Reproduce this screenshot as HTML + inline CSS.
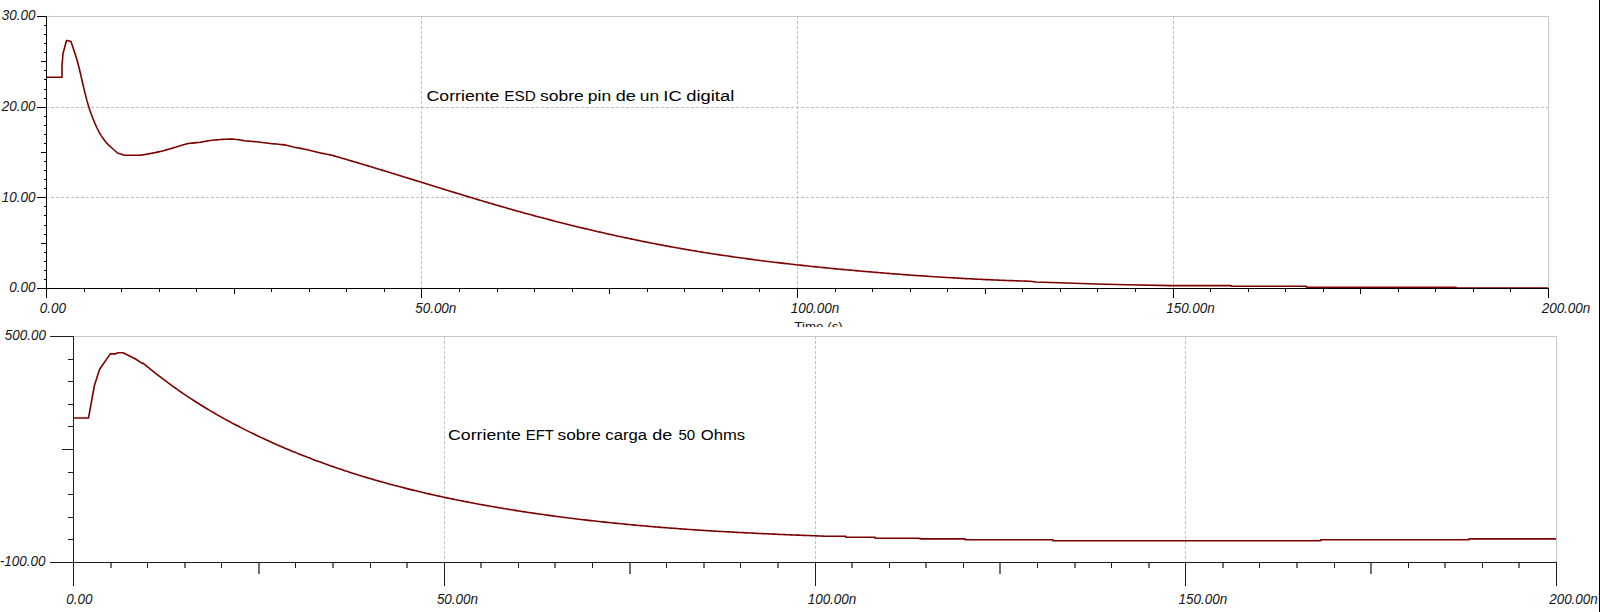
<!DOCTYPE html>
<html><head><meta charset="utf-8"><title>chart</title>
<style>
html,body{margin:0;padding:0;background:#fff;width:1600px;height:612px;overflow:hidden}
svg{display:block}
.lab{font-family:"Liberation Sans",sans-serif;font-style:italic;font-size:14.6px;fill:#141414}
.reg{font-family:"Liberation Sans",sans-serif;font-size:13.5px;fill:#141414}
.title{font-family:"Liberation Sans",sans-serif;font-size:15.5px;fill:#000;stroke:#000;stroke-width:0px}
</style></head><body>
<svg width="1600" height="612" viewBox="0 0 1600 612">
<path d="M46 16.5H1548.5M1548.5 16V288" stroke="#c8c8c8" fill="none"/>
<path d="M47 107.5H1548" stroke="#c0c0c0" stroke-dasharray="3 2" stroke-dashoffset="1" fill="none"/>
<path d="M47 197.5H1548" stroke="#c0c0c0" stroke-dasharray="3 2" stroke-dashoffset="1" fill="none"/>
<path d="M421.5 17V288" stroke="#c0c0c0" stroke-dasharray="3 2" stroke-dashoffset="1" fill="none"/>
<path d="M797.5 17V288" stroke="#c0c0c0" stroke-dasharray="3 2" stroke-dashoffset="1" fill="none"/>
<path d="M1173.5 17V288" stroke="#c0c0c0" stroke-dasharray="3 2" stroke-dashoffset="1" fill="none"/>
<polyline points="46.00,77.25 62.00,77.25 62.00,65.50 63.00,53.50 66.50,40.50 67.40,40.50 71.00,41.50 73.00,47.50 75.00,53.57 77.00,60.02 79.00,67.50 81.00,76.03 83.00,84.74 85.00,93.08 87.00,100.89 89.00,107.76 91.00,113.57 93.00,118.79 95.00,123.64 97.00,128.00 99.00,131.88 101.00,135.32 103.00,138.33 105.00,141.05 107.00,143.43 109.00,145.45 111.00,147.25 113.00,149.01 115.00,150.75 117.00,152.50 117.50,152.94 124.40,155.20 126.40,155.20 128.40,155.20 130.40,155.20 132.40,155.20 134.40,155.20 136.40,155.20 138.40,155.18 140.40,155.10 142.40,154.91 144.40,154.62 146.40,154.27 148.40,153.91 150.40,153.54 152.40,153.16 154.40,152.77 156.40,152.35 158.40,151.90 160.40,151.42 162.40,150.93 164.40,150.41 166.40,149.87 168.40,149.30 170.40,148.72 172.40,148.13 174.40,147.54 176.40,146.95 178.40,146.34 180.40,145.71 182.40,145.05 184.40,144.42 186.40,143.91 188.40,143.56 190.40,143.30 192.40,143.09 194.40,142.88 196.40,142.67 198.40,142.44 200.40,142.17 202.40,141.85 204.40,141.51 206.40,141.15 208.40,140.82 210.40,140.52 212.40,140.28 214.40,140.06 216.40,139.86 218.40,139.68 220.40,139.52 222.40,139.39 224.40,139.28 226.40,139.18 228.40,139.09 230.40,139.04 232.40,139.08 234.40,139.22 236.40,139.44 238.40,139.72 240.40,140.03 242.40,140.36 244.40,140.68 246.40,140.95 248.40,141.15 250.40,141.32 252.40,141.47 254.40,141.62 256.40,141.80 258.40,142.00 260.40,142.24 262.40,142.50 264.40,142.76 266.40,143.02 268.40,143.27 270.40,143.50 272.40,143.70 274.40,143.88 276.40,144.06 278.40,144.25 280.40,144.44 282.40,144.66 284.40,144.91 286.40,145.27 288.40,145.74 290.40,146.26 292.40,146.77 294.40,147.22 296.40,147.62 298.40,148.01 300.40,148.39 302.40,148.78 304.40,149.18 306.40,149.58 308.40,150.00 310.40,150.45 312.40,150.94 314.40,151.45 316.40,151.96 318.40,152.46 320.40,152.93 322.40,153.37 324.40,153.78 326.40,154.18 328.40,154.58 329.90,154.88 330.00,154.74 332.00,155.31 334.00,155.88 336.00,156.45 338.00,157.02 340.00,157.60 342.00,158.18 344.00,158.76 346.00,159.34 348.00,159.93 350.00,160.52 352.00,161.11 354.00,161.70 356.00,162.29 358.00,162.88 360.00,163.48 362.00,164.08 364.00,164.68 366.00,165.28 368.00,165.88 370.00,166.48 372.00,167.09 374.00,167.69 376.00,168.30 378.00,168.91 380.00,169.52 382.00,170.13 384.00,170.74 386.00,171.35 388.00,171.96 390.00,172.58 392.00,173.19 394.00,173.81 396.00,174.42 398.00,175.04 400.00,175.66 402.00,176.28 404.00,176.90 406.00,177.52 408.00,178.13 410.00,178.75 412.00,179.37 414.00,179.99 416.00,180.62 418.00,181.24 420.00,181.86 422.00,182.48 424.00,183.10 426.00,183.72 428.00,184.34 430.00,184.96 432.00,185.58 434.00,186.20 436.00,186.82 438.00,187.44 440.00,188.05 442.00,188.67 444.00,189.29 446.00,189.91 448.00,190.52 450.00,191.14 452.00,191.75 454.00,192.36 456.00,192.98 458.00,193.59 460.00,194.20 462.00,194.81 464.00,195.42 466.00,196.02 468.00,196.63 470.00,197.24 472.00,197.84 474.00,198.44 476.00,199.04 478.00,199.64 480.00,200.24 482.00,200.84 484.00,201.43 486.00,202.02 488.00,202.61 490.00,203.20 492.00,203.79 494.00,204.38 496.00,204.96 498.00,205.54 500.00,206.12 502.00,206.70 504.00,207.27 506.00,207.85 508.00,208.42 510.00,208.99 512.00,209.55 514.00,210.12 516.00,210.68 518.00,211.24 520.00,211.79 522.00,212.35 524.00,212.90 526.00,213.45 528.00,214.00 530.00,214.55 532.00,215.09 534.00,215.63 536.00,216.17 538.00,216.70 540.00,217.24 542.00,217.77 544.00,218.30 546.00,218.83 548.00,219.35 550.00,219.87 552.00,220.39 554.00,220.91 556.00,221.42 558.00,221.94 560.00,222.45 562.00,222.95 564.00,223.46 566.00,223.96 568.00,224.46 570.00,224.96 572.00,225.46 574.00,225.95 576.00,226.44 578.00,226.93 580.00,227.41 582.00,227.90 584.00,228.38 586.00,228.85 588.00,229.33 590.00,229.80 592.00,230.27 594.00,230.74 596.00,231.21 598.00,231.67 600.00,232.13 602.00,232.59 604.00,233.04 606.00,233.50 608.00,233.95 610.00,234.40 612.00,234.84 614.00,235.28 616.00,235.72 618.00,236.16 620.00,236.59 622.00,237.03 624.00,237.46 626.00,237.88 628.00,238.31 630.00,238.73 632.00,239.15 634.00,239.56 636.00,239.98 638.00,240.39 640.00,240.80 642.00,241.20 644.00,241.61 646.00,242.01 648.00,242.40 650.00,242.80 652.00,243.19 654.00,243.58 656.00,243.97 658.00,244.35 660.00,244.73 662.00,245.11 664.00,245.49 666.00,245.86 668.00,246.23 670.00,246.60 672.00,246.96 674.00,247.32 676.00,247.68 678.00,248.04 680.00,248.39 682.00,248.74 684.00,249.09 686.00,249.44 688.00,249.78 690.00,250.12 692.00,250.46 694.00,250.79 696.00,251.12 698.00,251.45 700.00,251.78 702.00,252.10 704.00,252.42 706.00,252.74 708.00,253.06 710.00,253.37 712.00,253.68 714.00,253.99 716.00,254.30 718.00,254.60 720.00,254.90 722.00,255.20 724.00,255.50 726.00,255.79 728.00,256.08 730.00,256.37 732.00,256.66 734.00,256.94 736.00,257.23 738.00,257.51 740.00,257.78 742.00,258.06 744.00,258.33 746.00,258.60 748.00,258.87 750.00,259.14 752.00,259.40 754.00,259.67 756.00,259.93 758.00,260.19 760.00,260.44 762.00,260.70 764.00,260.95 766.00,261.20 768.00,261.45 770.00,261.69 772.00,261.94 774.00,262.18 776.00,262.42 778.00,262.66 780.00,262.89 782.00,263.13 784.00,263.36 786.00,263.59 788.00,263.82 790.00,264.05 792.00,264.28 794.00,264.50 796.00,264.72 798.00,264.94 800.00,265.16 802.00,265.38 804.00,265.59 806.00,265.81 808.00,266.02 810.00,266.23 812.00,266.44 814.00,266.65 816.00,266.85 818.00,267.06 820.00,267.26 822.00,267.46 824.00,267.66 826.00,267.86 828.00,268.05 830.00,268.25 832.00,268.44 834.00,268.64 836.00,268.83 838.00,269.02 840.00,269.21 842.00,269.39 844.00,269.58 846.00,269.76 848.00,269.95 850.00,270.13 852.00,270.31 854.00,270.49 856.00,270.67 858.00,270.85 860.00,271.02 862.00,271.20 864.00,271.37 866.00,271.55 868.00,271.72 870.00,271.89 872.00,272.06 874.00,272.23 876.00,272.39 878.00,272.56 880.00,272.72 882.00,272.89 884.00,273.05 886.00,273.21 888.00,273.37 890.00,273.53 892.00,273.68 894.00,273.84 896.00,273.99 898.00,274.15 900.00,274.30 902.00,274.45 904.00,274.60 906.00,274.75 908.00,274.89 910.00,275.04 912.00,275.18 914.00,275.33 916.00,275.47 918.00,275.61 920.00,275.75 922.00,275.89 924.00,276.02 926.00,276.16 928.00,276.29 930.00,276.43 932.00,276.56 934.00,276.69 936.00,276.81 938.00,276.94 940.00,277.07 942.00,277.19 944.00,277.31 946.00,277.44 948.00,277.56 950.00,277.68 952.00,277.79 954.00,277.91 956.00,278.02 958.00,278.14 960.00,278.25 962.00,278.36 964.00,278.47 966.00,278.58 968.00,278.68 970.00,278.79 972.00,278.89 974.00,278.99 976.00,279.09 978.00,279.19 980.00,279.29 982.00,279.39 984.00,279.48 986.00,279.58 988.00,279.67 990.00,279.76 992.00,279.85 994.00,279.93 996.00,280.02 998.00,280.10 1000.00,280.19 1002.00,280.27 1004.00,280.35 1006.00,280.43 1008.00,280.50 1010.00,280.58 1012.00,280.65 1014.00,280.73 1016.00,280.80 1018.00,280.87 1020.00,280.93 1022.00,281.00 1024.00,281.07 1026.00,281.13 1028.00,281.19 1030.00,281.25 1036.00,282.00 1066.00,283.00 1096.00,284.00 1127.00,284.80 1172.00,285.60 1231.00,285.60 1231.00,286.30 1306.50,286.30 1306.50,287.20 1456.00,287.20 1456.00,288.00 1548.00,288.00" fill="none" stroke="#7c0000" stroke-width="1.6" stroke-linejoin="round"/>
<path d="M46.5 16V297M37 288.5H1548.5M37 16.5H46M44 25.5H46M44 34.5H46M44 43.5H46M44 52.5H46M41 61.5H46M44 70.5H46M44 79.5H46M44 89.5H46M44 98.5H46M37 107.5H46M44 116.5H46M44 125.5H46M44 134.5H46M44 143.5H46M41 152.5H46M44 161.5H46M44 170.5H46M44 179.5H46M44 188.5H46M37 197.5H46M44 206.5H46M44 215.5H46M44 225.5H46M44 234.5H46M41 243.5H46M44 252.5H46M44 261.5H46M44 270.5H46M44 279.5H46M37 288.5H46M46.5 289V298M84.5 289V291.5M121.5 289V291.5M159.5 289V291.5M196.5 289V291.5M234.5 289V294M271.5 289V291.5M309.5 289V291.5M346.5 289V291.5M384.5 289V291.5M421.5 289V298M459.5 289V291.5M497.5 289V291.5M534.5 289V291.5M572.5 289V291.5M609.5 289V294M647.5 289V291.5M684.5 289V291.5M722.5 289V291.5M759.5 289V291.5M797.5 289V298M835.5 289V291.5M872.5 289V291.5M910.5 289V291.5M947.5 289V291.5M985.5 289V294M1022.5 289V291.5M1060.5 289V291.5M1097.5 289V291.5M1135.5 289V291.5M1173.5 289V298M1210.5 289V291.5M1248.5 289V291.5M1285.5 289V291.5M1323.5 289V291.5M1360.5 289V294M1398.5 289V291.5M1435.5 289V291.5M1473.5 289V291.5M1510.5 289V291.5M1548.5 289V298" stroke="#000000" fill="none" shape-rendering="crispEdges"/>
<text x="35.5" y="20.2" class="lab" text-anchor="end" textLength="33.66" lengthAdjust="spacingAndGlyphs">30.00</text>
<text x="35.5" y="110.9" class="lab" text-anchor="end" textLength="33.66" lengthAdjust="spacingAndGlyphs">20.00</text>
<text x="35.5" y="201.5" class="lab" text-anchor="end" textLength="33.66" lengthAdjust="spacingAndGlyphs">10.00</text>
<text x="35.5" y="292.2" class="lab" text-anchor="end" textLength="26.18" lengthAdjust="spacingAndGlyphs">0.00</text>
<text x="39.7" y="312.8" class="lab" textLength="26.18" lengthAdjust="spacingAndGlyphs">0.00</text>
<text x="415.2" y="312.8" class="lab" textLength="41.14" lengthAdjust="spacingAndGlyphs">50.00n</text>
<text x="790.7" y="312.8" class="lab" textLength="48.62" lengthAdjust="spacingAndGlyphs">100.00n</text>
<text x="1166.2" y="312.8" class="lab" textLength="48.62" lengthAdjust="spacingAndGlyphs">150.00n</text>
<text x="1541.7" y="312.8" class="lab" textLength="48.62" lengthAdjust="spacingAndGlyphs">200.00n</text>
<text x="426.60" y="101" class="title" textLength="72.68" lengthAdjust="spacingAndGlyphs">Corriente</text>
<text x="504.24" y="101" class="title" textLength="31.49" lengthAdjust="spacingAndGlyphs">ESD</text>
<text x="540.01" y="101" class="title" textLength="43.77" lengthAdjust="spacingAndGlyphs">sobre</text>
<text x="587.88" y="101" class="title" textLength="23.26" lengthAdjust="spacingAndGlyphs">pin</text>
<text x="615.74" y="101" class="title" textLength="20.06" lengthAdjust="spacingAndGlyphs">de</text>
<text x="639.87" y="101" class="title" textLength="19.26" lengthAdjust="spacingAndGlyphs">un</text>
<text x="663.31" y="101" class="title" textLength="18.39" lengthAdjust="spacingAndGlyphs">IC</text>
<text x="686.23" y="101" class="title" textLength="48.00" lengthAdjust="spacingAndGlyphs">digital</text>
<text x="794.3" y="330.8" class="reg" textLength="48.5" lengthAdjust="spacingAndGlyphs">Time (s)</text>
<rect x="700" y="327" width="200" height="9" fill="#fff"/>
<path d="M73 336.5H1556.5M1556.5 336V562" stroke="#c8c8c8" fill="none"/>
<path d="M444.5 337V562" stroke="#c0c0c0" stroke-dasharray="3 2" stroke-dashoffset="1" fill="none"/>
<path d="M815.5 337V562" stroke="#c0c0c0" stroke-dasharray="3 2" stroke-dashoffset="1" fill="none"/>
<path d="M1185.5 337V562" stroke="#c0c0c0" stroke-dasharray="3 2" stroke-dashoffset="1" fill="none"/>
<polyline points="73.00,418.00 88.50,418.00 94.40,385.50 99.60,369.20 110.30,353.90 115.30,353.90 117.90,352.80 123.10,352.80 125.10,353.76 127.10,354.71 129.10,355.68 131.10,356.66 133.10,357.68 135.10,358.79 137.10,360.03 139.10,361.35 141.10,362.69 142.60,363.70 142.90,362.99 144.90,364.66 146.90,366.32 148.90,367.96 150.90,369.58 152.90,371.19 154.90,372.77 156.90,374.35 158.90,375.90 160.90,377.44 162.90,378.96 164.90,380.47 166.90,381.96 168.90,383.44 170.90,384.90 172.90,386.34 174.90,387.77 176.90,389.18 178.90,390.58 180.90,391.97 182.90,393.34 184.90,394.69 186.90,396.04 188.90,397.37 190.90,398.68 192.90,399.98 194.90,401.27 196.90,402.54 198.90,403.80 200.90,405.05 202.90,406.29 204.90,407.51 206.90,408.72 208.90,409.92 210.90,411.11 212.90,412.28 214.90,413.45 216.90,414.60 218.90,415.74 220.90,416.87 222.90,417.99 224.90,419.10 226.90,420.19 228.90,421.28 230.90,422.36 232.90,423.42 234.90,424.48 236.90,425.53 238.90,426.57 240.90,427.59 242.90,428.61 244.90,429.62 246.90,430.62 248.90,431.62 250.90,432.60 252.90,433.58 254.90,434.54 256.90,435.50 258.90,436.46 260.90,437.40 262.90,438.34 264.90,439.26 266.90,440.19 268.90,441.10 270.90,442.00 272.90,442.90 274.90,443.79 276.90,444.68 278.90,445.55 280.90,446.42 282.90,447.29 284.90,448.14 286.90,448.99 288.90,449.83 290.90,450.66 292.90,451.49 294.90,452.31 296.90,453.12 298.90,453.93 300.90,454.73 302.90,455.52 304.90,456.31 306.90,457.09 308.90,457.86 310.90,458.62 312.90,459.38 314.90,460.14 316.90,460.88 318.90,461.62 320.90,462.36 322.90,463.09 324.90,463.81 326.90,464.52 328.90,465.23 330.90,465.94 332.90,466.63 334.90,467.32 336.90,468.01 338.90,468.69 340.90,469.36 342.90,470.03 344.90,470.69 346.90,471.35 348.90,472.00 350.90,472.64 352.90,473.28 354.90,473.92 356.90,474.55 358.90,475.17 360.90,475.79 362.90,476.40 364.90,477.01 366.90,477.61 368.90,478.20 370.90,478.80 372.90,479.38 374.90,479.96 376.90,480.54 378.90,481.11 380.90,481.68 382.90,482.24 384.90,482.80 386.90,483.35 388.90,483.90 390.90,484.44 392.90,484.98 394.90,485.51 396.90,486.04 398.90,486.56 400.90,487.08 402.90,487.60 404.90,488.11 406.90,488.61 408.90,489.11 410.90,489.61 412.90,490.10 414.90,490.59 416.90,491.08 418.90,491.56 420.90,492.03 422.90,492.50 424.90,492.97 426.90,493.43 428.90,493.89 430.90,494.35 432.90,494.80 434.90,495.25 436.90,495.69 438.90,496.13 440.90,496.57 442.90,497.00 444.90,497.43 446.90,497.85 448.90,498.27 450.90,498.69 452.90,499.10 454.90,499.52 456.90,499.92 458.90,500.33 460.90,500.72 462.90,501.12 464.90,501.51 466.90,501.90 468.90,502.29 470.90,502.67 472.90,503.05 474.90,503.43 476.90,503.80 478.90,504.17 480.90,504.54 482.90,504.91 484.90,505.27 486.90,505.63 488.90,505.98 490.90,506.33 492.90,506.68 494.90,507.03 496.90,507.37 498.90,507.72 500.90,508.05 502.90,508.39 504.90,508.72 506.90,509.05 508.90,509.38 510.90,509.70 512.90,510.02 514.90,510.34 516.90,510.66 518.90,510.97 520.90,511.28 522.90,511.59 524.90,511.90 526.90,512.20 528.90,512.50 530.90,512.80 532.90,513.09 534.90,513.38 536.90,513.67 538.90,513.96 540.90,514.25 542.90,514.53 544.90,514.81 546.90,515.09 548.90,515.36 550.90,515.63 552.90,515.90 554.90,516.17 556.90,516.44 558.90,516.70 560.90,516.96 562.90,517.22 564.90,517.47 566.90,517.73 568.90,517.98 570.90,518.23 572.90,518.48 574.90,518.72 576.90,518.96 578.90,519.20 580.90,519.44 582.90,519.68 584.90,519.91 586.90,520.14 588.90,520.37 590.90,520.60 592.90,520.82 594.90,521.05 596.90,521.27 598.90,521.49 600.90,521.70 602.90,521.92 604.90,522.13 606.90,522.34 608.90,522.55 610.90,522.76 612.90,522.97 614.90,523.17 616.90,523.37 618.90,523.57 620.90,523.77 622.90,523.96 624.90,524.16 626.90,524.35 628.90,524.54 630.90,524.73 632.90,524.91 634.90,525.10 636.90,525.28 638.90,525.46 640.90,525.64 642.90,525.82 644.90,525.99 646.90,526.17 648.90,526.34 650.90,526.51 652.90,526.68 654.90,526.85 656.90,527.01 658.90,527.17 660.90,527.34 662.90,527.50 664.90,527.65 666.90,527.81 668.90,527.97 670.90,528.12 672.90,528.27 674.90,528.42 676.90,528.57 678.90,528.72 680.90,528.86 682.90,529.01 684.90,529.15 686.90,529.29 688.90,529.43 690.90,529.57 692.90,529.70 694.90,529.84 696.90,529.97 698.90,530.10 700.90,530.23 702.90,530.36 704.90,530.49 706.90,530.62 708.90,530.74 710.90,530.86 712.90,530.98 714.90,531.11 716.90,531.22 718.90,531.34 720.90,531.46 722.90,531.57 724.90,531.69 726.90,531.80 728.90,531.91 730.90,532.02 732.90,532.13 734.90,532.24 736.90,532.34 738.90,532.45 740.90,532.55 742.90,532.65 744.90,532.76 746.90,532.86 748.90,532.96 750.90,533.06 752.90,533.15 754.90,533.25 756.90,533.35 758.90,533.44 760.90,533.54 762.90,533.63 764.90,533.72 766.90,533.81 768.90,533.90 770.90,533.99 772.90,534.08 774.90,534.17 776.90,534.26 778.90,534.34 780.90,534.43 782.90,534.51 784.90,534.60 786.90,534.68 788.90,534.77 790.90,534.85 792.90,534.93 794.90,535.01 796.90,535.09 798.90,535.17 800.90,535.25 802.90,535.33 804.90,535.41 806.90,535.49 808.90,535.57 810.90,535.65 812.90,535.73 814.90,535.80 816.90,535.88 818.90,535.96 820.90,536.03 822.90,536.11 824.90,536.18 826.90,536.26 828.00,536.30 845.70,536.30 845.70,537.30 875.00,537.30 875.00,538.20 920.00,538.20 920.00,538.90 965.00,538.90 965.00,539.70 1053.00,539.70 1053.00,540.75 1320.80,540.75 1320.80,539.80 1469.00,539.80 1469.00,538.90 1556.00,538.90" fill="none" stroke="#7c0000" stroke-width="1.6" stroke-linejoin="round"/>
<path d="M73.5 336V585M50 562.5H1556.5M50 336.5H73M68 359.5H73M68 381.5H73M68 404.5H73M68 426.5H73M62 449.5H73M68 472.5H73M68 494.5H73M68 517.5H73M68 539.5H73M50 562.5H73M73.5 563V586M147.5 563V568M221.5 563V568M295.5 563V568M370.5 563V568M444.5 563V586M518.5 563V568M592.5 563V568M666.5 563V568M740.5 563V568M815.5 563V586M889.5 563V568M963.5 563V568M1037.5 563V568M1111.5 563V568M1185.5 563V586M1259.5 563V568M1334.5 563V568M1408.5 563V568M1482.5 563V568M1556.5 563V586" stroke="#1e1e1e" fill="none" shape-rendering="crispEdges"/>
<path d="M111 563V568M185 563V568M259 563V574M333 563V568M407 563V568M481 563V568M555 563V568M630 563V574M704 563V568M778 563V568M852 563V568M926 563V568M1000 563V574M1075 563V568M1149 563V568M1223 563V568M1297 563V568M1371 563V574M1445 563V568M1519 563V568" stroke="#1e1e1e" stroke-width="1.25" fill="none"/>
<text x="46.0" y="340.2" class="lab" text-anchor="end" textLength="41.14" lengthAdjust="spacingAndGlyphs">500.00</text>
<text x="45.5" y="566.1" class="lab" text-anchor="end" textLength="45.62" lengthAdjust="spacingAndGlyphs">-100.00</text>
<text x="66.2" y="603.8" class="lab" textLength="26.18" lengthAdjust="spacingAndGlyphs">0.00</text>
<text x="436.9" y="603.8" class="lab" textLength="41.14" lengthAdjust="spacingAndGlyphs">50.00n</text>
<text x="807.7" y="603.8" class="lab" textLength="48.62" lengthAdjust="spacingAndGlyphs">100.00n</text>
<text x="1178.5" y="603.8" class="lab" textLength="48.62" lengthAdjust="spacingAndGlyphs">150.00n</text>
<text x="1549.2" y="603.8" class="lab" textLength="48.62" lengthAdjust="spacingAndGlyphs">200.00n</text>
<text x="448.10" y="440.4" class="title" textLength="72.68" lengthAdjust="spacingAndGlyphs">Corriente</text>
<text x="525.78" y="440.4" class="title" textLength="28.06" lengthAdjust="spacingAndGlyphs">EFT</text>
<text x="557.52" y="440.4" class="title" textLength="43.25" lengthAdjust="spacingAndGlyphs">sobre</text>
<text x="605.30" y="440.4" class="title" textLength="41.71" lengthAdjust="spacingAndGlyphs">carga</text>
<text x="652.24" y="440.4" class="title" textLength="20.06" lengthAdjust="spacingAndGlyphs">de</text>
<text x="678.40" y="440.4" class="title" textLength="16.69" lengthAdjust="spacingAndGlyphs">50</text>
<text x="700.72" y="440.4" class="title" textLength="44.38" lengthAdjust="spacingAndGlyphs">Ohms</text>
<rect x="1599" y="0" width="1" height="612" fill="#000"/>
</svg>
</body></html>
